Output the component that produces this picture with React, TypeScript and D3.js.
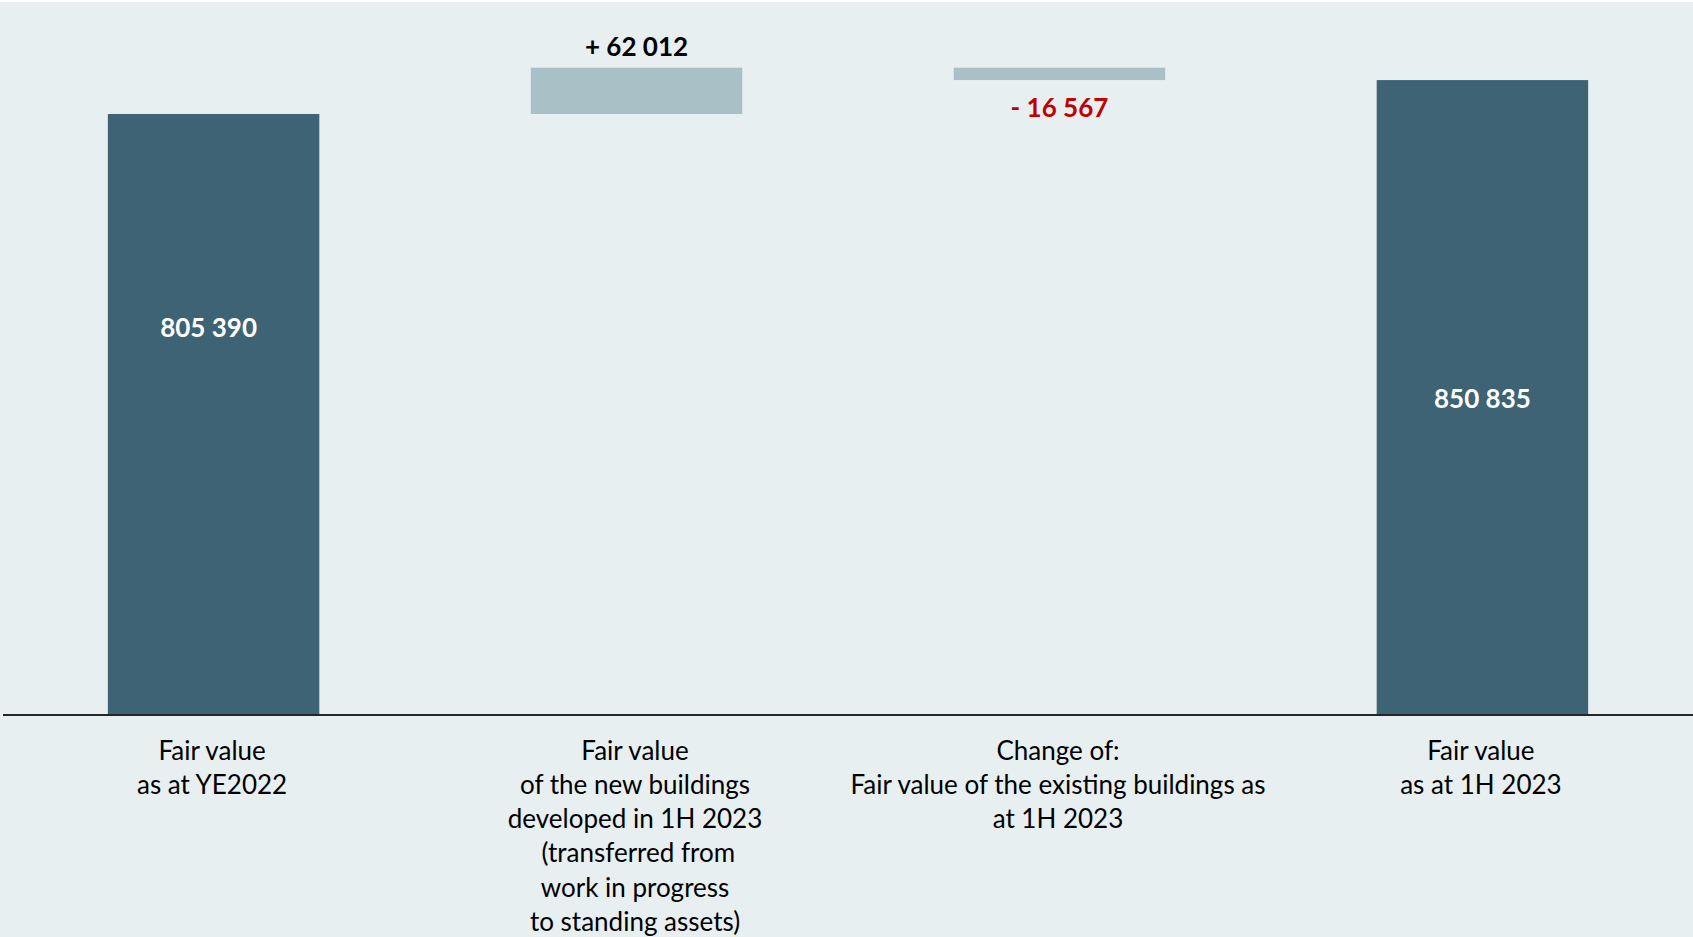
import React from "react";
import * as d3 from "d3";

const categories: string[][] = [
  ["Fair value", "as at YE2022"],
  ["Fair value", "of the new buildings", "developed in 1H 2023", " (transferred from", "work in progress", "to standing assets)"],
  ["Change of:", "Fair value of the existing buildings as", "at 1H 2023"],
  ["Fair value", "as at 1H 2023"],
];
const kinds = ["total", "delta", "delta", "total"];
const values = [805390, 62012, -16567, 850835];
const valueLabels = ["805 390", "+ 62 012", "- 16 567", "850 835"];

const W = 1693;
const H = 937;
const BG = "#E7EFF1";
const DARK = "#3D6374";
const LIGHT = "#A9C1C6";
const FONT = "Lato, 'Open Sans', sans-serif";

export default function App() {
  const x = d3
    .scaleBand<number>()
    .domain(d3.range(values.length))
    .range([0, 1696])
    .paddingInner(0.5)
    .paddingOuter(0.255);
  const baseY = 715;
  const y = d3
    .scaleLinear()
    .domain([0, 900000])
    .range([baseY, baseY - (900000 * 601) / 805390]);

  let running = 0;
  const bars = values.map((v, i) => {
    let lo: number, hi: number;
    if (kinds[i] === "total") {
      lo = 0;
      hi = v;
      running = v;
    } else {
      lo = Math.min(running, running + v);
      hi = Math.max(running, running + v);
      running += v;
    }
    return { i, v, lo, hi, kind: kinds[i] };
  });

  return (
    <svg
      width={W}
      height={H}
      style={{ position: "absolute", left: 0, top: 0, display: "block" }}
    >
      <rect x={0} y={0} width={W} height={H} fill="#ffffff" />
      <rect x={0} y={2} width={W} height={H - 2} fill={BG} />
      {bars.map((b) => (
        <rect
          key={b.i}
          x={x(b.i)}
          y={y(b.hi)}
          width={x.bandwidth()}
          height={y(b.lo) - y(b.hi)}
          fill={b.kind === "total" ? DARK : LIGHT}
        />
      ))}
      <line x1={3} x2={W} y1={baseY} y2={baseY} stroke="#262626" strokeWidth={2} />
      {bars.map((b) => {
        const cx = (x(b.i) as number) + x.bandwidth() / 2;
        if (b.kind === "total") {
          const ly = b.i === 0 ? y(520000) : (y(b.hi) + y(0)) / 2;
          return (
            <text
              key={"v" + b.i}
              x={cx - (b.i === 0 ? 5 : 0)}
              y={ly + 1}
              dy="0.35em"
              textAnchor="middle"
              fill="#ffffff"
              fontFamily={FONT}
              fontWeight={700}
              fontSize={26}
            >
              {valueLabels[b.i]}
            </text>
          );
        }
        const pos = b.v >= 0;
        return (
          <text
            key={"v" + b.i}
            x={cx}
            y={pos ? y(b.hi) - 21 : y(b.lo) + 28}
            dy="0.35em"
            textAnchor="middle"
            fill={pos ? "#000000" : "#C00000"}
            fontFamily={FONT}
            fontWeight={700}
            fontSize={26}
          >
            {valueLabels[b.i]}
          </text>
        );
      })}
      {categories.map((lines, i) => {
        const cx = (x(i) as number) + x.bandwidth() / 2 - 1.5;
        return (
          <text
            key={"c" + i}
            textAnchor="middle"
            fill="#000000"
            fontFamily={FONT}
            fontSize={26}
          >
            {lines.map((l, j) => (
              <tspan key={j} x={cx} y={751 + j * 34.1} dy="0.35em" style={{ whiteSpace: "pre" }}>
                {l}
              </tspan>
            ))}
          </text>
        );
      })}
    </svg>
  );
}
